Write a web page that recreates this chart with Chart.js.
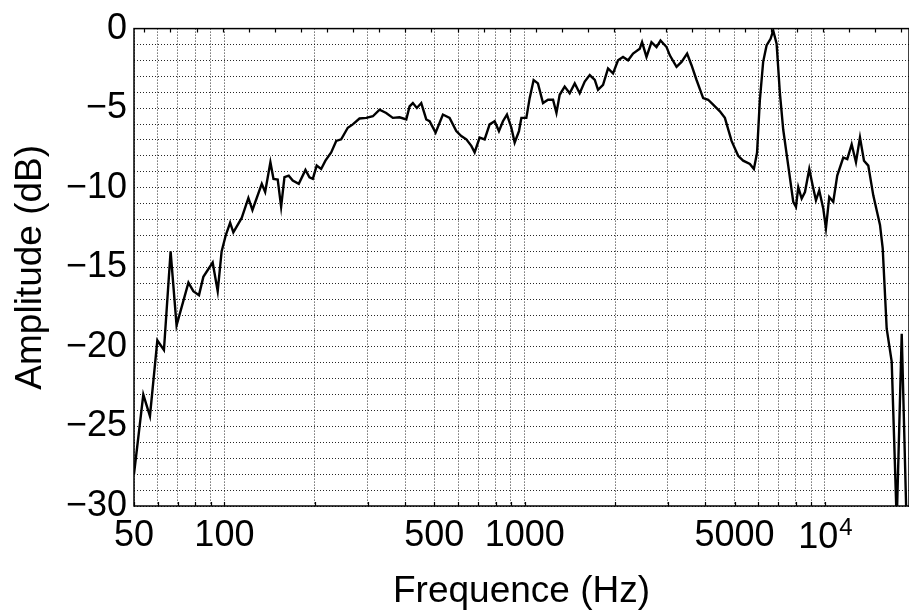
<!DOCTYPE html>
<html>
<head>
<meta charset="utf-8">
<script src="https://cdn.jsdelivr.net/npm/chart.js@4.4.1/dist/chart.umd.min.js"></script>
<style>
  html, body { margin: 0; padding: 0; background: #fff; }
  #spectrum { display: block; }
</style>
</head>
<body>
<canvas id="spectrum" width="909" height="616"></canvas>
<script>
// frequency (Hz) and amplitude (dB)
var freqs = [50, 53.7, 56.5, 59.8, 62.9, 66.2, 69.3, 75.9, 78.8, 82.3,
    85.1, 91.4, 95.0, 97.9, 101, 104.5, 107.1, 114.2, 120.2, 124,
    133.2, 136.7, 142.3, 145.7, 150.5, 154.5, 158.5, 163.8, 168.9, 176.9,
    186.2, 192, 197, 203, 210, 217, 226.8, 235.7, 244.9, 257.6,
    267.7, 281.8, 296.8, 312.2, 328.6, 345.8, 363.9, 383.1, 403.4, 413.7,
    424.3, 437.5, 452.5, 470.2, 482.3, 505.1, 534.2, 562.3, 591.9, 615.1,
    639.2, 664.2, 681.3, 707.9, 735.6, 764.4, 794.3, 820.9, 846.5, 873,
    903, 926.2, 957.3, 975.1, 1013, 1039, 1071, 1107, 1151, 1196,
    1243, 1276, 1308, 1359, 1412, 1468, 1525, 1585, 1647, 1712,
    1755, 1824, 1895, 1969, 2046, 2126, 2210, 2296, 2417, 2460,
    2545, 2644, 2748, 2834, 2968, 3044, 3204, 3330, 3475, 3595,
    3736, 3930, 4083, 4243, 4467, 4642, 4886, 5140, 5341, 5623,
    5799, 5941, 6070, 6226, 6391, 6591, 6724, 6902, 7079, 7261,
    7546, 7842, 8007, 8150, 8365, 8579, 8867, 9101, 9333, 9573,
    9869, 10077, 10335, 10657, 10988, 11507, 11866, 12274, 12685, 13081,
    13489, 13941, 14486, 15251, 15570, 16056, 16683, 17338, 18016, 18692];

var amps = [-28.0, -23.0, -24.35, -19.6, -20.2, -14.0, -18.65, -15.96, -16.5, -16.75,
    -15.6, -14.7, -16.5, -14.0, -13.0, -12.2, -12.8, -11.9, -10.64, -11.4,
    -9.75, -10.27, -8.4, -9.44, -9.48, -11.2, -9.34, -9.24, -9.55, -9.75,
    -8.88, -9.34, -9.44, -8.61, -8.82, -8.3, -7.78, -7.06, -6.96, -6.23,
    -6.02, -5.65, -5.61, -5.51, -5.09, -5.3, -5.61, -5.57, -5.71, -4.89,
    -4.68, -4.99, -4.68, -5.71, -5.82, -6.54, -5.4, -5.61, -6.44, -6.75,
    -6.96, -7.37, -7.78, -6.85, -6.96, -6.02, -5.82, -6.44, -5.82, -5.4,
    -6.23, -7.16, -6.44, -5.61, -5.61, -4.37, -3.23, -3.44, -4.68, -4.47,
    -4.47, -5.3, -4.16, -3.64, -4.06, -3.44, -4.06, -3.33, -2.92, -3.23,
    -3.85, -3.54, -2.5, -2.81, -1.99, -1.78, -1.99, -1.57, -1.26, -0.85,
    -1.78, -0.85, -1.16, -0.75, -1.16, -1.68, -2.4, -2.09, -1.57, -2.3,
    -3.23, -4.37, -4.47, -4.78, -5.2, -5.61, -7.06, -7.99, -8.3, -8.51,
    -8.82, -7.8, -4.5, -2.09, -1.06, -0.64, -0.12, -0.95, -4.06, -6.34,
    -8.61, -10.89, -11.2, -9.96, -10.68, -10.27, -8.82, -9.86, -10.79, -10.17,
    -11.3, -12.55, -10.58, -10.89, -9.24, -8.1, -8.2, -7.27, -8.4, -6.85,
    -8.3, -8.61, -10.48, -12.34, -13.79, -18.86, -20.93, -31, -19.17, -31];

var xLabels = [50, 100, 500, 1000, 5000];
var yLabels = [0, -5, -10, -15, -20, -25, -30];
var xMin = 50, xMax = 19050;
var yMin = -30, yMax = 0;

var FONT = '"Liberation Sans", Arial, Helvetica, sans-serif';

// grid at 1..9 x 10^n between the limits, and every dB
var xGrid = [];
for (var e = 1; e <= 4; e++) {
    for (var m = 1; m <= 9; m++) {
        var v = m * Math.pow(10, e);
        if (v >= xMin && v <= xMax) xGrid.push(v);
    }
}
var yGrid = [];
for (var d = yMin; d <= yMax; d++) yGrid.push(d);

var points = freqs.map(function (f, i) { return { x: f, y: amps[i] }; });

var frame = {
    id: 'frame',
    afterDraw: function (chart) {
        var ctx = chart.ctx;
        var a = chart.chartArea;
        var xs = chart.scales.x;
        ctx.save();
        ctx.strokeStyle = '#000';
        ctx.lineWidth = 1.5;
        ctx.strokeRect(a.left, a.top, a.right - a.left, a.bottom - a.top);
        // little inward ticks on the bottom edge, at the grid lines
        ctx.lineWidth = 1.2;
        ctx.beginPath();
        xs.ticks.forEach(function (t) {
            var px = Math.round(xs.getPixelForValue(t.value)) + 0.5;
            ctx.moveTo(px, a.bottom);
            ctx.lineTo(px, a.bottom - 4);
        });
        // evenly spaced ticks on the top edge
        for (var px = a.left + 10.3; px < a.right; px += 26.1) {
            ctx.moveTo(Math.round(px) + 0.5, a.top);
            ctx.lineTo(Math.round(px) + 0.5, a.top + 4);
        }
        ctx.stroke();
        // 10^4 label with a raised exponent
        var p = xs.getPixelForValue(10000);
        ctx.fillStyle = '#000';
        ctx.textBaseline = 'alphabetic';
        ctx.textAlign = 'left';
        ctx.font = '36px ' + FONT;
        var w1 = ctx.measureText('10').width;
        ctx.font = '24px ' + FONT;
        var w2 = ctx.measureText('4').width;
        var x0 = p - (w1 + w2) / 2;
        var base = a.bottom + 42;
        ctx.font = '36px ' + FONT;
        ctx.fillText('10', x0, base);
        ctx.font = '24px ' + FONT;
        ctx.fillText('4', x0 + w1 + 1, base - 13);
        ctx.restore();
    }
};

var ctx = document.getElementById('spectrum').getContext('2d');
var myChart = new Chart(ctx, {
    type: 'line',
    data: {
        datasets: [{
            data: points,
            borderColor: '#000',
            borderWidth: 2.4,
            pointRadius: 0,
            tension: 0,
            fill: false
        }]
    },
    options: {
        responsive: false,
        animation: false,
        events: [],
        layout: { padding: { top: 23, right: 0, left: 0, bottom: 0 } },
        plugins: {
            legend: { display: false },
            tooltip: { enabled: false }
        },
        scales: {
            x: {
                type: 'logarithmic',
                min: xMin,
                max: xMax,
                afterBuildTicks: function (axis) {
                    axis.ticks = xGrid.map(function (v) { return { value: v }; });
                },
                afterFit: function (axis) { axis.height = 110; },
                ticks: {
                    autoSkip: false,
                    maxRotation: 0,
                    padding: 8,
                    color: '#000',
                    font: { family: FONT, size: 36 },
                    callback: function (value) {
                        return xLabels.indexOf(value) >= 0 ? String(value) : '';
                    }
                },
                grid: { color: 'rgba(0,0,0,0.85)', lineWidth: 1, drawTicks: false },
                border: { display: false, dash: [1, 2] },
                title: {
                    display: true,
                    text: 'Frequence (Hz)',
                    color: '#000',
                    font: { family: FONT, size: 37 },
                    padding: { top: 0, bottom: 2 }
                }
            },
            y: {
                type: 'linear',
                min: yMin,
                max: yMax,
                afterBuildTicks: function (axis) {
                    axis.ticks = yGrid.map(function (v) { return { value: v }; });
                },
                afterFit: function (axis) { axis.width = 134; },
                ticks: {
                    autoSkip: false,
                    padding: 7,
                    color: '#000',
                    font: { family: FONT, size: 36 },
                    callback: function (value) {
                        if (yLabels.indexOf(value) < 0) return '';
                        return value < 0 ? '\u2212' + Math.abs(value) : String(value);
                    }
                },
                grid: { color: 'rgba(0,0,0,0.85)', lineWidth: 1, drawTicks: false },
                border: { display: false, dash: [1, 2] },
                title: {
                    display: true,
                    text: 'Amplitude (dB)',
                    color: '#000',
                    font: { family: FONT, size: 37 },
                    padding: { top: 9, bottom: 0 }
                }
            }
        }
    },
    plugins: [frame]
});
</script>
</body>
</html>
